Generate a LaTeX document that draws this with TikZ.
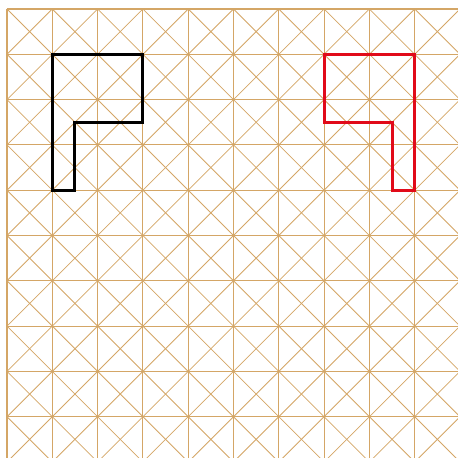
\documentclass[tikz,border=0pt]{standalone}
\begin{document}
\begin{tikzpicture}[x=45.3pt,y=-45.3pt,
  gridline/.style={draw=gridtan,line width=1.1pt},
  diagline/.style={draw=gridtan,line width=0.8pt},
  shapeline/.style={line width=3pt,line join=miter}]
\definecolor{gridtan}{RGB}{212,166,102}
\definecolor{shapered}{RGB}{225,10,25}
\clip (-0.1545,-0.1987) rectangle (9.956,9.912);
\useasboundingbox (-0.1545,-0.1987) rectangle (9.956,9.912);
\fill[white] (-0.1545,-0.1987) rectangle (9.956,9.912);
\foreach \i in {0,...,10} {
  \draw[gridline] (\i,0) -- (\i,10);
  \draw[gridline] (0,\i) -- (10,\i);
}
\foreach \i in {0,...,9} {
  \foreach \j in {0,...,9} {
    \draw[diagline] (\i,\j) -- (\i+1,\j+1);
    \draw[diagline] (\i+1,\j) -- (\i,\j+1);
  }
}
\draw[shapeline,black] (1,1) -- (3,1) -- (3,2.5) -- (1.5,2.5) -- (1.5,4) -- (1,4) -- cycle;
\draw[shapeline,shapered] (7,1) -- (9,1) -- (9,4) -- (8.5,4) -- (8.5,2.5) -- (7,2.5) -- cycle;
\end{tikzpicture}
\end{document}
